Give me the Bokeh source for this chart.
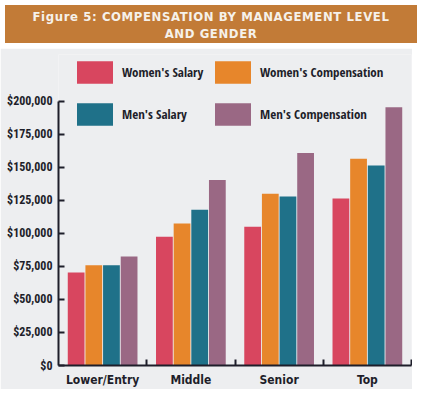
from bokeh.plotting import figure
from bokeh.models import Range1d, FixedTicker, NumeralTickFormatter, Legend, LegendItem, Div, ColumnDataSource
from bokeh.layouts import column
from bokeh.embed import file_html
from bokeh.resources import INLINE

# ---- data ----
levels = ["Lower/Entry", "Middle", "Senior", "Top"]
womens_salary = [70500, 97500, 105000, 126500]
womens_comp = [76000, 107500, 130000, 156500]
mens_salary = [76000, 118000, 128000, 151500]
mens_comp = [82500, 140500, 161000, 195500]
series_names = ["Women's Salary", "Women's Compensation", "Men's Salary", "Men's Compensation"]
y_ticks = [0, 25000, 50000, 75000, 100000, 125000, 150000, 175000, 200000]

series = [womens_salary, womens_comp, mens_salary, mens_comp]
colors = ["#D8465F", "#E7862B", "#1F7189", "#9A6884"]
offsets = [-0.3, -0.1, 0.1, 0.3]

FONT_Y = "Roboto Condensed"
FONT_X = "DejaVu Sans Condensed"
FONT_L = "Open Sans Condensed"
BG = "#EDEEF0"
INK = "#1E1E2A"

title = Div(
    text="Figure 5: COMPENSATION BY MANAGEMENT LEVEL<br>AND GENDER",
    width=412, height=38,
    styles={"background-color": "#C27B37", "color": "#F6F1EA", "font-weight": "bold",
            "text-align": "center", "font-family": "DejaVu Sans Condensed",
            "font-size": "13px", "letter-spacing": "0.6px", "line-height": "17px",
            "padding-top": "3px", "box-sizing": "border-box", "width": "412px", "height": "38px"},
)

p = figure(width=412, height=341, output_backend="svg", toolbar_location=None,
           x_range=Range1d(0, len(levels)), y_range=Range1d(0, 235500),
           min_border_left=58, min_border_right=1, min_border_top=6, min_border_bottom=0)
p.background_fill_color = BG
p.border_fill_color = BG
p.outline_line_color = None
p.grid.visible = False

centers = [i + 0.5 for i in range(len(levels))]
renderers = []
for vals, col, off in zip(series, colors, offsets):
    src = ColumnDataSource(dict(x=[c + off for c in centers], top=vals))
    r = p.vbar(x="x", top="top", width=0.19, bottom=0, source=src,
               fill_color=col, line_color=None)
    renderers.append(r)

# x axis
xa = p.xaxis[0]
xa.ticker = FixedTicker(ticks=centers, minor_ticks=[1, 2, 3, 4])
xa.major_label_overrides = {c: lab for c, lab in zip(centers, levels)}
xa.major_tick_line_color = None
xa.minor_tick_in = 6
xa.minor_tick_out = 0
xa.minor_tick_line_color = INK
xa.minor_tick_line_width = 2
xa.axis_line_color = INK
xa.axis_line_width = 2
xa.major_label_text_font = FONT_X
xa.major_label_text_font_style = "bold"
xa.major_label_text_font_size = "12px"
xa.major_label_text_color = INK
xa.major_label_standoff = 1

# y axis
ya = p.yaxis[0]
ya.ticker = FixedTicker(ticks=y_ticks)
ya.formatter = NumeralTickFormatter(format="$0,0")
ya.bounds = (0, 200000)
ya.major_tick_in = 6
ya.major_tick_out = 0
ya.minor_tick_line_color = None
ya.major_tick_line_color = INK
ya.major_tick_line_width = 2
ya.axis_line_color = INK
ya.axis_line_width = 2
ya.major_label_text_font = FONT_Y
ya.major_label_text_font_style = "bold"
ya.major_label_text_font_size = "12px"
ya.major_label_text_color = INK
ya.major_label_standoff = 6

def make_legend(idx, loc):
    lg = Legend(items=[LegendItem(label=series_names[i], renderers=[renderers[i]]) for i in idx],
                location=loc, orientation="vertical",
                glyph_width=45, glyph_height=28, label_standoff=5, spacing=14,
                padding=0, margin=0, border_line_color=None, background_fill_alpha=0,
                label_text_font=FONT_L, label_text_font_style="bold",
                label_text_font_size="13px", label_text_color=INK)
    return lg

p.add_layout(make_legend([0, 2], (14, 237)))
p.add_layout(make_legend([1, 3], (152, 237)))

layout = column(title, p, spacing=0)
open("out.html", "w").write(file_html(layout, INLINE))
